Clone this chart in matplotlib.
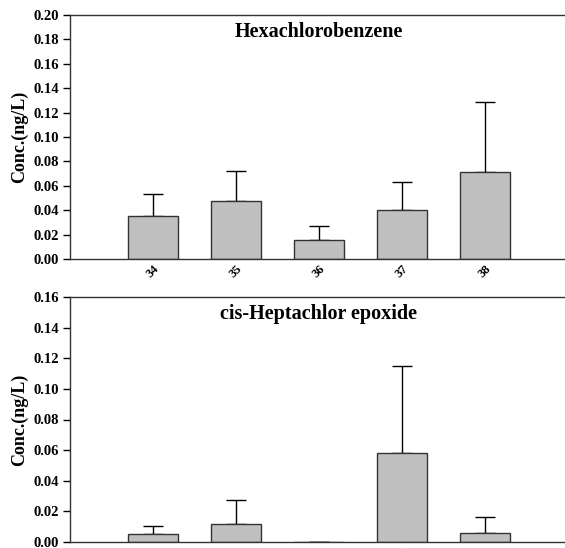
import matplotlib.pyplot as plt
import numpy as np

sites = ['34', '35', '36', '37', '38']

hcb_mean = [0.0352, 0.0473, 0.0156, 0.0404, 0.0713]
hcb_err = [0.0178, 0.0251, 0.0117, 0.0230, 0.0571]

hepox_mean = [0.0050, 0.0116, 0.0, 0.0578, 0.0057]
hepox_err = [0.0057, 0.0159, 0.0, 0.0571, 0.0107]

plt.rcParams['font.family'] = 'Liberation Serif'
plt.rcParams['font.weight'] = 'bold'

fig = plt.figure(figsize=(5.65, 5.48), dpi=100)
ax1 = fig.add_axes([70/565, 1 - 259/548, 498/565, 244/548])
ax2 = fig.add_axes([70/565, 1 - 542/548, 498/565, 245/548])

x = np.arange(1, len(sites) + 1)


def panel(ax, mean, err, title, ymax):
    ax.bar(x, mean, width=0.6, color='#c0c0c0', edgecolor='#333333', linewidth=1, zorder=2)
    ax.errorbar(x, mean, yerr=[np.zeros(len(err)), err], fmt='none', ecolor='black',
                elinewidth=1, capsize=7, capthick=1, zorder=1)
    ax.set_xlim(0, 6)
    ax.set_ylim(0, ymax)
    ticks = np.arange(0, ymax + 0.001, 0.02)
    ax.set_yticks(ticks)
    ax.set_yticklabels(['%.2f' % v for v in ticks], fontsize=10.5, fontweight='bold')
    ax.set_xticks(x)
    ax.set_xticklabels(sites, rotation=45, fontsize=9, fontweight='bold', ha='center')
    ax.tick_params(axis='x', length=0, pad=3)
    ax.tick_params(axis='y', direction='out', length=5, width=1, pad=3)
    ax.spines['right'].set_visible(False)
    for s in ['left', 'top', 'bottom']:
        ax.spines[s].set_color('#333333')
        ax.spines[s].set_linewidth(1)
    ax.set_ylabel('Conc.(ng/L)', fontsize=13, fontweight='bold', labelpad=4)
    ax.text(0.5, 0.93, title, transform=ax.transAxes, ha='center', va='center',
            fontsize=14.5, fontweight='bold')


panel(ax1, hcb_mean, hcb_err, 'Hexachlorobenzene', 0.20)
panel(ax2, hepox_mean, hepox_err, 'cis-Heptachlor epoxide', 0.16)

fig.savefig('out.png', dpi=100)
